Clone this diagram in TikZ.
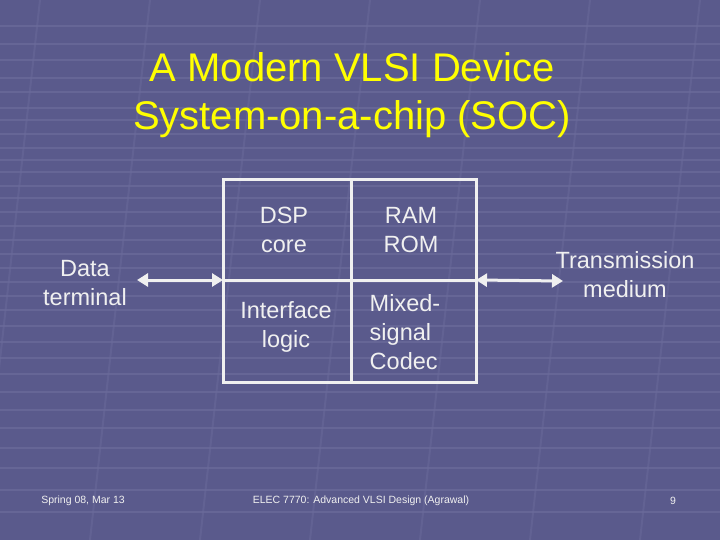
\documentclass[tikz,border=0pt]{standalone}
\usepackage{fontspec}
\usetikzlibrary{arrows.meta}
\setmainfont{Liberation Sans}
\definecolor{bg}{HTML}{5A5A8C}
\definecolor{grid}{HTML}{6E6E9E}
\definecolor{ttl}{HTML}{FFFF00}
\definecolor{wl}{HTML}{F0F0F0}
\begin{document}
\begin{tikzpicture}[x=1pt,y=-1pt,
  body/.style={text=wl,font=\fontsize{23.5}{29}\selectfont,align=center},
  foot/.style={text=wl,font=\fontsize{10.5}{12}\selectfont},
  boxline/.style={draw=wl,line width=3pt},
  dbl/.style={draw=wl,line width=3pt,{Triangle[width=13pt,length=11pt]}-{Triangle[width=13pt,length=11pt]}}]
\fill[bg] (0,0) rectangle (720,540);
\useasboundingbox (0,0) rectangle (720,540);
\foreach \y in {26,44,60,78,92,108,120,134,148,160,172,186,198,212,226,240,254,268,282,296,310,326,342,358,374,392,410,428,448,468,490,512}
  \draw[grid,line width=1.2pt,opacity=0.6] (0,\y) -- (720,\y);
\foreach \x in {40,150,260,370,480,590,700}
  \draw[grid!80!bg,line width=2pt,opacity=0.5] (\x,0) -- (\x-60,540);
\node[text=ttl,font=\fontsize{40}{48}\selectfont,align=center] (title) at (352,95) {A Modern VLSI Device\\System-on-a-chip (SOC)};
\draw[boxline] (223,180) rectangle (476,382);
\coordinate (tm) at (351,180); \coordinate (bm) at (351,382);
\coordinate (lm) at (223,280); \coordinate (rm) at (476,280);
\draw[boxline] (tm) -- (bm);
\draw[boxline] (lm) -- (rm);
\node[body] (dsp) at (284,230) {DSP\\core};
\node[body] (ram) at (411,230) {RAM\\ROM};
\node[body] (ifl) at (286,327) {Interface\\logic};
\node[body,align=left] (mix) at (405,332) {Mixed-\\signal\\Codec};
\node[body] (dt) at (85,283) {Data\\terminal};
\node[body] (tr) at (625,275) {Transmission\\medium};
\coordinate (la) at (137,280); \coordinate (ra) at (563,281);
\draw[dbl] (la) -- (lm);
\draw[dbl] (rm) -- (ra);
\node[foot] (f1) at (83,501) {Spring 08, Mar 13};
\node[foot] (f2) at (361,501) {ELEC 7770: Advanced VLSI Design (Agrawal)};
\node[foot] (f3) at (673,501) {9};
\end{tikzpicture}
\end{document}
